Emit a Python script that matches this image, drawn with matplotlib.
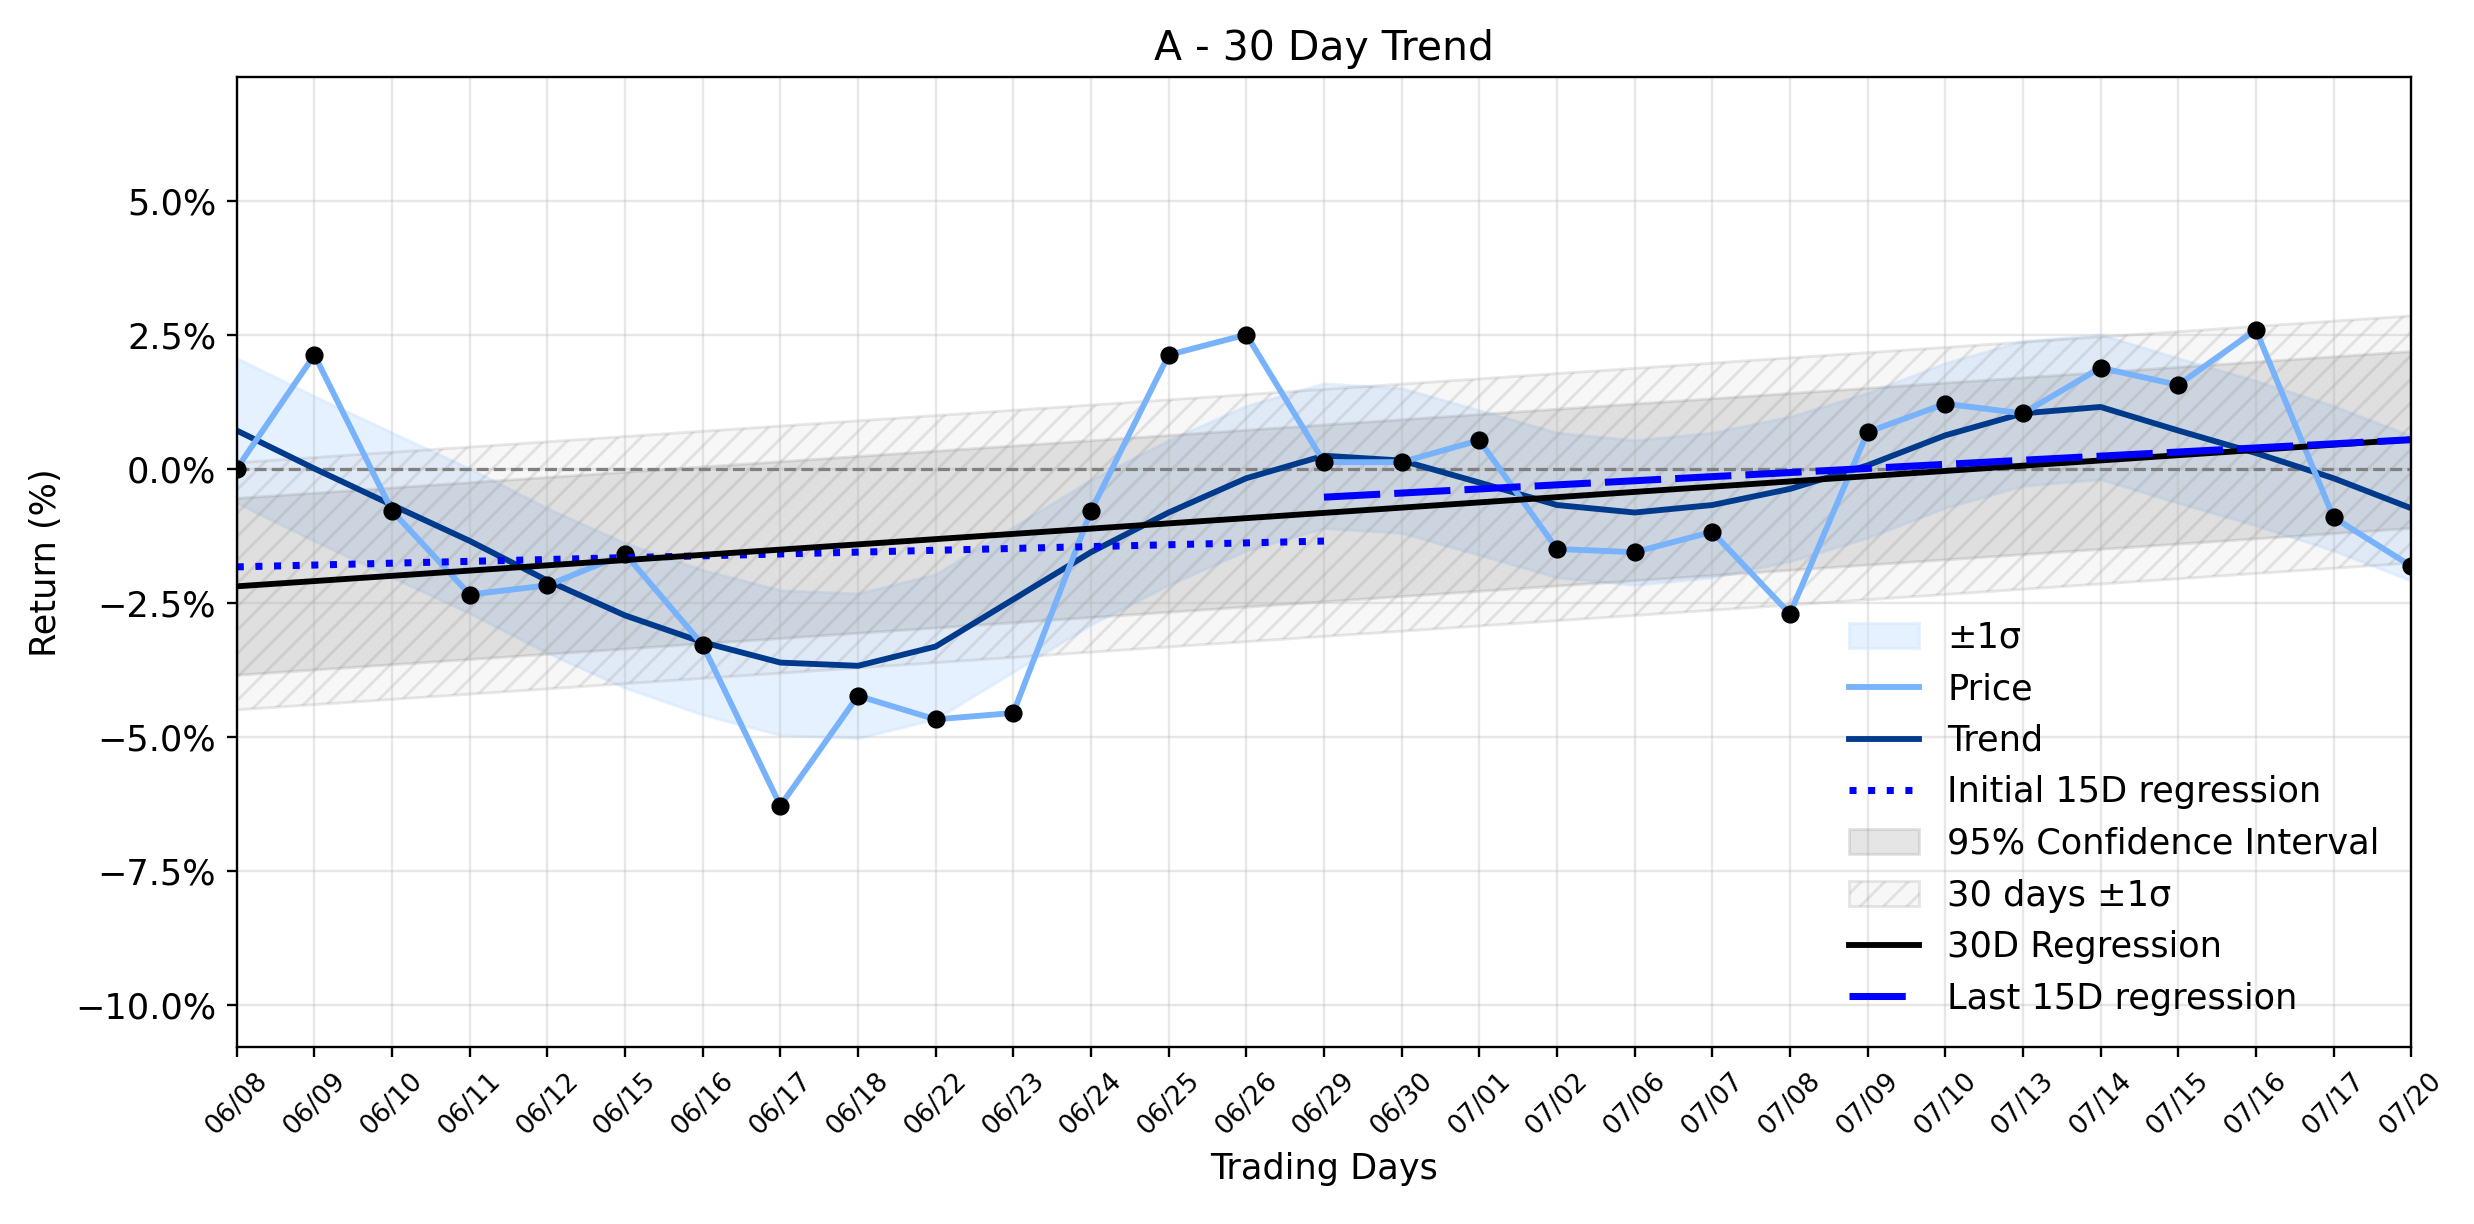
import numpy as np
import matplotlib
matplotlib.use("Agg")
import matplotlib.pyplot as plt
from matplotlib.ticker import MultipleLocator, PercentFormatter

plt.rcParams.update({"font.size": 12, "font.family": "DejaVu Sans"})

# data (returns in %)
DATES = ["06/08", "06/09", "06/10", "06/11", "06/12", "06/15", "06/16", "06/17",
         "06/18", "06/22", "06/23", "06/24", "06/25", "06/26", "06/29", "06/30",
         "07/01", "07/02", "07/06", "07/07", "07/08", "07/09", "07/10", "07/13",
         "07/14", "07/15", "07/16", "07/17", "07/20"]
PRICE = [0.00, 2.12, -0.79, -2.35, -2.18, -1.59, -3.29, -6.29, -4.24, -4.68,
         -4.56, -0.79, 2.12, 2.50, 0.12, 0.12, 0.53, -1.50, -1.56, -1.18,
         -2.71, 0.68, 1.21, 1.03, 1.88, 1.56, 2.59, -0.91, -1.82]
TREND = [0.71, 0.00, -0.68, -1.35, -2.09, -2.74, -3.24, -3.62, -3.68, -3.32,
         -2.44, -1.56, -0.82, -0.18, 0.24, 0.15, -0.26, -0.68, -0.82, -0.68,
         -0.38, 0.06, 0.62, 1.03, 1.15, 0.71, 0.29, -0.18, -0.74]
TREND_SIGMA = 1.35   # width of the +-1 sigma band around the trend
CI_HALF = 1.65       # half width of the 95% band around the 30D fit

x = np.arange(len(PRICE))
y = np.array(PRICE)
trend = np.array(TREND)

# regressions
b30 = np.polyfit(x, y, 1); reg30 = np.polyval(b30, x)
xi = x[:15]; bi = np.polyfit(xi, y[:15], 1)
xl = x[14:]; bl = np.polyfit(xl, y[14:], 1)
sd30 = np.std(y)

DPI = 211
fig = plt.figure(figsize=(2474 / DPI, 1224 / DPI), dpi=DPI)
ax = fig.add_axes([0.0957, 0.1443, 0.9746 - 0.0957, 0.9368 - 0.1443])

h_sig = ax.fill_between(x, trend - TREND_SIGMA, trend + TREND_SIGMA, color="#cfe5ff", alpha=0.5, lw=1, label="±1σ")
h_ci = ax.fill_between(x, reg30 - CI_HALF, reg30 + CI_HALF, color="gray", alpha=0.2, lw=1, label="95% Confidence Interval")
h_30 = ax.fill_between(x, reg30 - sd30, reg30 + sd30, facecolor=(0.5, 0.5, 0.5, 0.06),
                       edgecolor=(0.5, 0.5, 0.5, 0.18), hatch="///", lw=1, label="30 days ±1σ")
ax.axhline(0, color="gray", ls="--", lw=1.1)
h_tr, = ax.plot(x, trend, color="#003a8c", lw=2, label="Trend")
h_pr, = ax.plot(x, y, color="#78b2fb", lw=2, label="Price")
ax.plot(x, y, "o", color="black", ms=5.2)
h_in, = ax.plot(xi, np.polyval(bi, xi), color="blue", ls=":", lw=2.4, label="Initial 15D regression")
h_rg, = ax.plot(x, reg30, color="black", lw=2, label="30D Regression")
h_la, = ax.plot(xl, np.polyval(bl, xl), color="blue", lw=2.4, dashes=(8, 2), label="Last 15D regression")

ax.set_xlim(0, len(x) - 1)
ax.set_ylim(-10.8, 7.3)
ax.set_xticks(x)
ax.set_xticklabels(DATES, rotation=45, fontsize=9)
ax.yaxis.set_major_locator(MultipleLocator(2.5))
ax.yaxis.set_major_formatter(PercentFormatter(xmax=100, decimals=1))
ax.grid(alpha=.3)
ax.set_xlabel("Trading Days")
ax.set_ylabel("Return (%)")
ax.set_title("A - 30 Day Trend", fontsize=14)
ax.legend(handles=[h_sig, h_pr, h_tr, h_in, h_ci, h_30, h_rg, h_la],
          loc="lower right", frameon=False, fontsize=12)
fig.savefig("out.png", dpi=DPI)
